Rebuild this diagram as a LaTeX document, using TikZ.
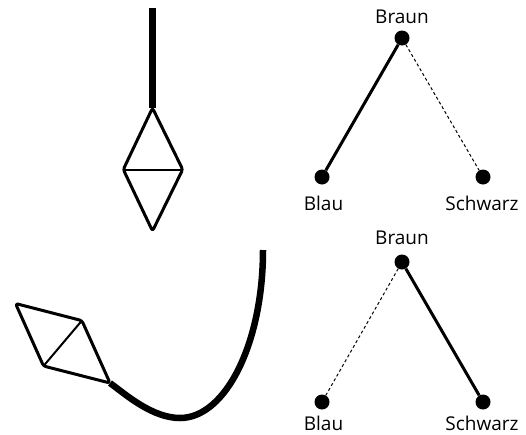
\documentclass[tikz,border=0pt]{standalone}
\usepackage{fontspec}
\setmainfont{Open Sans}
\tikzset{
  dot/.style={circle, fill=black, draw=none, minimum size=15pt, inner sep=0pt},
  lbl/.style={inner sep=0pt, anchor=base, font=\fontsize{19}{22}\selectfont},
  strong/.style={line width=3pt},
  weak/.style={line width=1pt, dash pattern=on 3pt off 2.5pt},
  rope/.style={line width=6.5pt},
  kite/.style={line width=3pt, line join=round, rounded corners=2.5pt},
  spar/.style={line width=2pt}
}
\begin{document}
\begin{tikzpicture}[x=1pt, y=-1pt]
\useasboundingbox (0,0) rectangle (526,434);
% top-left
\draw[rope] (152.5,8) -- (152.5,108);
\draw[kite] (152.5,108) -- (182.7,169.5) -- (152.5,231) -- (123.3,169.5) -- cycle;
\draw[spar] (123.3,169.5) -- (182.7,169.5);
% bottom-left
\draw[rope] (110,383) .. controls (125,394) and (152,418) .. (180,418) .. controls (225.8,418) and (263,342.8) .. (263,250);
\draw[kite] (110,383) -- (81.9,320.6) -- (15.5,303.5) -- (43.5,366) -- cycle;
\draw[spar] (81.9,320.6) -- (43.5,366);
% top-right graph
\node[dot] (braunA) at (402,38) {};
\node[dot] (blauA) at (322,177) {};
\node[dot] (schwarzA) at (483,177) {};
\node[lbl] (braunAl) at (402,23) {Braun};
\node[lbl] (blauAl) at (323.5,210) {Blau};
\node[lbl] (schwarzAl) at (482,210) {Schwarz};
\draw[strong] (braunA) -- (blauA);
\draw[weak] (braunA) -- (schwarzA);
% bottom-right graph
\node[dot] (braunB) at (402,262) {};
\node[dot] (blauB) at (322,402) {};
\node[dot] (schwarzB) at (483,402) {};
\node[lbl] (braunBl) at (402,244) {Braun};
\node[lbl] (blauBl) at (323.5,430.5) {Blau};
\node[lbl] (schwarzBl) at (482,430.5) {Schwarz};
\draw[weak] (braunB) -- (blauB);
\draw[strong] (braunB) -- (schwarzB);
\end{tikzpicture}
\end{document}
